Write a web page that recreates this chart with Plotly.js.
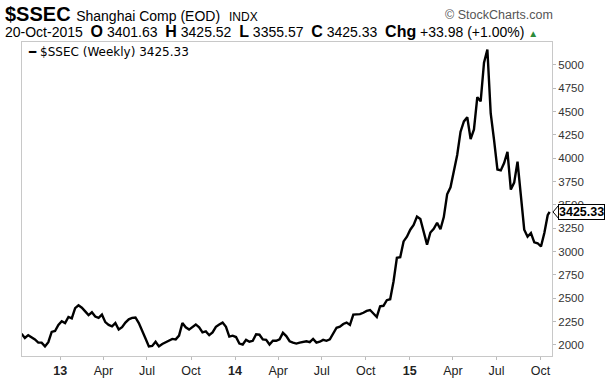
<!DOCTYPE html>
<html>
<head>
<meta charset="utf-8">
<script src="https://cdn.plot.ly/plotly-3.0.1.min.js"></script>
<style>html,body{margin:0;padding:0;background:#fff;}#chart{width:613px;height:379px;}</style>
</head>
<body>
<div id="chart"></div>
<script>
// ---- data ----
const symbol = "$SSEC";
const seriesName = "$SSEC (Weekly)";
const startDate = "2012-10-12"; // first weekly bar (Friday)
const lastDate = "2015-10-20";  // last (partial) weekly bar
const weeklyClose = [
  2120, 2075, 2105, 2085, 2060, 2025, 2025, 1985, 2030, 2140,
  2150, 2215, 2255, 2235, 2300, 2285, 2395, 2425, 2400, 2360,
  2320, 2350, 2305, 2290, 2325, 2245, 2215, 2200, 2235, 2165,
  2190, 2240, 2275, 2290, 2295, 2235, 2160, 2070, 1985, 1990,
  2035, 1985, 2010, 2030, 2050, 2065, 2060, 2100, 2235, 2190,
  2165, 2190, 2220, 2190, 2135, 2145, 2105, 2135, 2195, 2220,
  2240, 2195, 2090, 2100, 2085, 2015, 2005, 2055, 2035, 2045,
  2115, 2110, 2060, 2055, 2005, 2045, 2045, 2060, 2130, 2095,
  2040, 2025, 2015, 2025, 2030, 2040, 2030, 2065, 2025, 2035,
  2055, 2045, 2060, 2125, 2185, 2195, 2225, 2240, 2215, 2325,
  2330, 2330, 2345, 2365, 2375, 2340, 2300, 2415, 2420, 2480,
  2490, 2680, 2935, 2940, 3110, 3160, 3235, 3285, 3375, 3350,
  3210, 3075, 3205, 3245, 3310, 3240, 3370, 3615, 3690, 3865,
  4035, 4285, 4395, 4440, 4205, 4310, 4655, 4610, 5025, 5165,
  4480, 4195, 3880, 3870, 3950, 4070, 3665, 3740, 3965, 3600,
  3235, 3160, 3200, 3100, 3090, 3055, 3200, 3390, 3425.33
];
const tickDates = ["2013-01-01","2013-04-01","2013-07-01","2013-10-01","2014-01-01","2014-04-01","2014-07-01","2014-10-01","2015-01-01","2015-04-01","2015-07-01","2015-10-01"];
const tickLabels = ["<b>13</b>","Apr","Jul","Oct","<b>14</b>","Apr","Jul","Oct","<b>15</b>","Apr","Jul","Oct"];
const yTicks = [2000,2250,2500,2750,3000,3250,3500,3750,4000,4250,4500,4750,5000];
const quote = {date:"20-Oct-2015", O:"3401.63", H:"3425.52", L:"3355.57", C:"3425.33", chg:"+33.98", pct:"(+1.00%)"};

// build weekly dates
const dates = [];
{
  const d0 = new Date(startDate + "T00:00:00Z");
  for (let i = 0; i < weeklyClose.length - 1; i++) {
    const d = new Date(d0.getTime() + i * 7 * 86400000);
    dates.push(d.toISOString().slice(0,10));
  }
  dates.push(lastDate);
}
const lastVal = weeklyClose[weeklyClose.length - 1];

const F = "Arial, 'Liberation Sans', sans-serif";
const B = (s) => "<b><span style='font-size:16px'>" + s + "</span></b>";

const trace = {
  x: dates, y: weeklyClose, type: "scatter", mode: "lines",
  line: {color: "#000", width: 2.4}, hoverinfo: "skip", showlegend: false
};

const layout = {
  width: 613, height: 379,
  margin: {l: 22, r: 61, t: 42, b: 23, pad: 0},
  paper_bgcolor: "#fff", plot_bgcolor: "#fff",
  showlegend: false,
  xaxis: {
    type: "date", range: ["2012-10-13", "2015-10-25"],
    tickmode: "array", tickvals: tickDates, ticktext: tickLabels,
    ticks: "outside", ticklen: 3, tickcolor: "#bbb",
    showgrid: false, zeroline: false,
    showline: true, linecolor: "#c8c8c8", linewidth: 1, mirror: true,
    tickfont: {family: F, size: 12.5, color: "#222"}
  },
  yaxis: {
    side: "right", range: [1882, 5246],
    tickmode: "array", tickvals: yTicks,
    ticks: "outside", ticklen: 3, tickcolor: "#bbb",
    showgrid: false, zeroline: false,
    showline: true, linecolor: "#c8c8c8", linewidth: 1, mirror: true,
    tickfont: {family: F, size: 11.5, color: "#333"}
  },
  annotations: [
    {xref:"paper", yref:"paper", x:-0.036, y:1.089, xanchor:"left", yanchor:"middle", showarrow:false,
     text:"<b>" + symbol + "</b> <span style='font-size:14px'>Shanghai Comp (EOD)</span> <span style='font-size:12px'> INDX</span>",
     font:{family:F, size:20, color:"#000"}},
    {xref:"paper", yref:"paper", x:1.006, y:1.086, xanchor:"right", yanchor:"middle", showarrow:false,
     text:"© StockCharts.com", font:{family:F, size:12.5, color:"#555"}},
    {xref:"paper", yref:"paper", x:-0.036, y:1.035, xanchor:"left", yanchor:"middle", showarrow:false,
     text: quote.date + "  " + B("O") + " " + quote.O +
           "  " + B("H") + " " + quote.H +
           "  " + B("L") + " " + quote.L +
           "  " + B("C") + " " + quote.C +
           "  " + B("Chg") + " " + quote.chg + " " + quote.pct +
           " <span style='color:#2e8b3a;font-size:10px'>▲</span>",
     font:{family:F, size:14, color:"#000"}},
    {xref:"paper", yref:"paper", x:0.008, y:0.998, xanchor:"left", yanchor:"top", showarrow:false,
     text:"<b>━</b> " + seriesName + " " + lastVal.toFixed(2),
     font:{family:"'DejaVu Sans', Verdana, sans-serif", size:12, color:"#000"}},
    {xref:"paper", yref:"y", x:1, y:lastVal, xanchor:"left", yanchor:"middle", xshift:6, showarrow:false,
     text:"<b>" + lastVal.toFixed(2) + "</b>", font:{family:F, size:12.5, color:"#000"},
     bgcolor:"#fff", bordercolor:"#000", borderwidth:1, borderpad:0}
  ],
  shapes: [
    {type:"path", xref:"paper", yref:"y", xsizemode:"pixel", ysizemode:"pixel",
     xanchor:1, yanchor:lastVal, path:"M 7 -7 L 1 0 L 7 7 Z",
     fillcolor:"#fff", line:{color:"#000", width:1}}
  ]
};

Plotly.newPlot("chart", [trace], layout, {staticPlot: true, displayModeBar: false});
</script>
</body>
</html>
